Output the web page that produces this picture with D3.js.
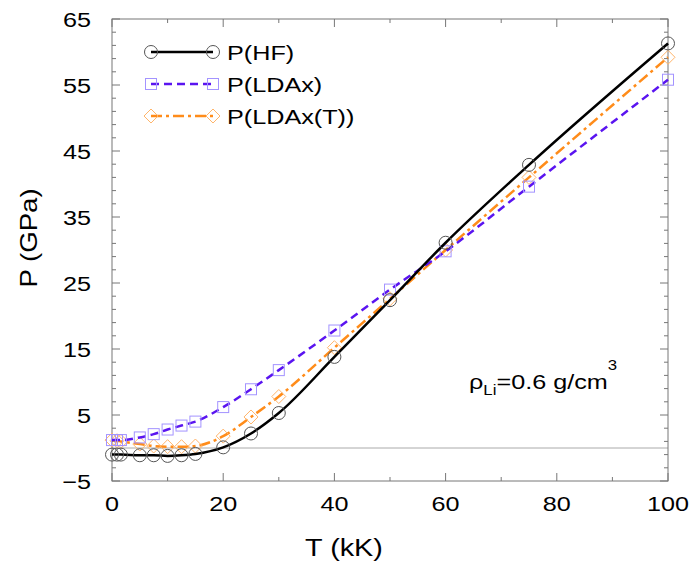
<!DOCTYPE html>
<html>
<head>
<meta charset="utf-8">
<script src="https://cdn.jsdelivr.net/npm/d3@7"></script>
<style>
	body { margin: 0; background: #fff; }
	text { font-family: "Liberation Sans", Arial, sans-serif; fill: #000; }
</style>
</head>
<body>
<script>
	// temperatures (kK) where the pressures were computed
	var temps = [0, 0.9, 1.6, 5, 7.5, 10, 12.5, 15, 20, 25, 30, 40, 50, 60, 75, 100];
	var pHF = [-1.0, -1.0, -1.0, -1.1, -1.1, -1.2, -1.1, -0.9, 0.1, 2.2, 5.3, 13.8, 22.4, 31.1, 42.9, 61.3];
	var pLDAx = [1.2, 1.2, 1.2, 1.6, 2.1, 2.8, 3.4, 4.0, 6.2, 8.9, 11.8, 17.8, 24.0, 29.8, 39.6, 55.8];
	var pLDAxT = [1.2, 1.1, 1.0, 0.6, 0.3, 0.2, 0.2, 0.3, 1.8, 4.7, 7.8, 15.2, 22.6, 30.0, 41.0, 59.2];
	var xTicks = [0, 20, 40, 60, 80, 100];
	var yTicks = [-5, 5, 15, 25, 35, 45, 55, 65];

	var width = 695, height = 565;
	var mLeft = 112, mRight = 668, mTop = 19, mBottom = 481;
	var stretch = 1.2; // the original lettering is wider than it is tall

	var svg = d3.select("body").append("svg")
		.attr("width", width)
		.attr("height", height);

	var x = d3.scaleLinear().domain([0, 100]).range([mLeft, mRight]);
	var y = d3.scaleLinear().domain([-5, 65]).range([mBottom, mTop]);

	function label(g, px, py, str, size, anchor, rot) {
		return g.append("text")
			.attr("transform", "translate(" + px + "," + py + ")" + (rot ? " rotate(" + rot + ")" : "") + " scale(" + stretch + ",1)")
			.attr("text-anchor", anchor || "start")
			.style("font-size", size + "px")
			.text(str);
	}

	// zero line
	svg.append("line")
		.attr("x1", mLeft).attr("x2", mRight)
		.attr("y1", y(0)).attr("y2", y(0))
		.style("stroke", "#aaa").style("stroke-width", 1);

	// ticks, all pointing inward, on every side
	var frame = svg.append("g").style("stroke", "#777").style("stroke-width", 1);
	d3.range(0, 101, 10).forEach(function(t) {
		var len = t % 20 === 0 ? 8 : 4;
		frame.append("line").attr("x1", x(t)).attr("x2", x(t)).attr("y1", mBottom).attr("y2", mBottom - len);
		frame.append("line").attr("x1", x(t)).attr("x2", x(t)).attr("y1", mTop).attr("y2", mTop + len);
	});
	d3.range(-5, 66, 2).forEach(function(v) {
		var len = (v + 5) % 10 === 0 ? 8 : 4;
		frame.append("line").attr("x1", mLeft).attr("x2", mLeft + len).attr("y1", y(v)).attr("y2", y(v));
		frame.append("line").attr("x1", mRight).attr("x2", mRight - len).attr("y1", y(v)).attr("y2", y(v));
	});
	frame.append("rect")
		.attr("x", mLeft).attr("y", mTop)
		.attr("width", mRight - mLeft).attr("height", mBottom - mTop)
		.style("fill", "none");

	// tick labels
	xTicks.forEach(function(d) { label(svg, x(d), 511, d, 21, "middle"); });
	yTicks.forEach(function(d) {
		label(svg, 91, y(d) + 8, d < 0 ? "\u2212" + Math.abs(d) : d, 21, "end");
	});

	label(svg, 344, 556, "T (kK)", 24, "middle");
	label(svg, 37, 238, "P (GPa)", 23, "middle", -90);

	var series = [
		{ name: "P(HF)", values: pHF, color: "#000", mark: "#555", dash: null, shape: "circle" },
		{ name: "P(LDAx)", values: pLDAx, color: "#5a14f0", mark: "#a393ff", dash: "8,5", shape: "square" },
		{ name: "P(LDAx(T))", values: pLDAxT, color: "#ff8c1a", mark: "#ffb56b", dash: "11,4,3,4", shape: "diamond" }
	];

	var line = d3.line()
		.x(function(d) { return x(d[0]); })
		.y(function(d) { return y(d[1]); })
		.curve(d3.curveMonotoneX);

	function marker(g, shape, color, cx, cy) {
		if (shape === "circle") {
			g.append("circle").attr("cx", cx).attr("cy", cy).attr("r", 6.5)
				.style("fill", "none").style("stroke", color).style("stroke-width", 1);
		} else if (shape === "square") {
			g.append("rect").attr("x", cx - 5.5).attr("y", cy - 5.5).attr("width", 11).attr("height", 11)
				.style("fill", "none").style("stroke", color).style("stroke-width", 1);
		} else {
			g.append("path").attr("d", "M" + cx + "," + (cy - 7) + "L" + (cx + 7) + "," + cy + "L" + cx + "," + (cy + 7) + "L" + (cx - 7) + "," + cy + "Z")
				.style("fill", "none").style("stroke", color).style("stroke-width", 1);
		}
	}

	// draw in reverse so that the black curve ends on top
	series.slice().reverse().forEach(function(s) {
		var pts = temps.map(function(t, i) { return [t, s.values[i]]; });
		var g = svg.append("g");
		g.append("path")
			.attr("d", line(pts))
			.style("fill", "none")
			.style("stroke", s.color)
			.style("stroke-width", 2.5)
			.style("stroke-dasharray", s.dash);
		pts.forEach(function(p) { marker(g, s.shape, s.mark, x(p[0]), y(p[1])); });
	});

	// legend
	series.forEach(function(s, i) {
		var ly = 52 + i * 32;
		var g = svg.append("g");
		g.append("line")
			.attr("x1", 151).attr("x2", 213).attr("y1", ly).attr("y2", ly)
			.style("stroke", s.color).style("stroke-width", 2.5)
			.style("stroke-dasharray", s.dash);
		marker(g, s.shape, s.mark, 151, ly);
		marker(g, s.shape, s.mark, 213, ly);
		label(g, 227, ly + 8, s.name, 21);
	});

	// density annotation
	var ann = label(svg, 469, 389, "", 21);
	ann.append("tspan").text("\u03c1");
	ann.append("tspan").attr("dy", 6).style("font-size", "14px").text("Li");
	ann.append("tspan").attr("dy", -6).text("=0.6 g/cm");
	ann.append("tspan").attr("dy", -19).style("font-size", "14px").text("3");
</script>
</body>
</html>
